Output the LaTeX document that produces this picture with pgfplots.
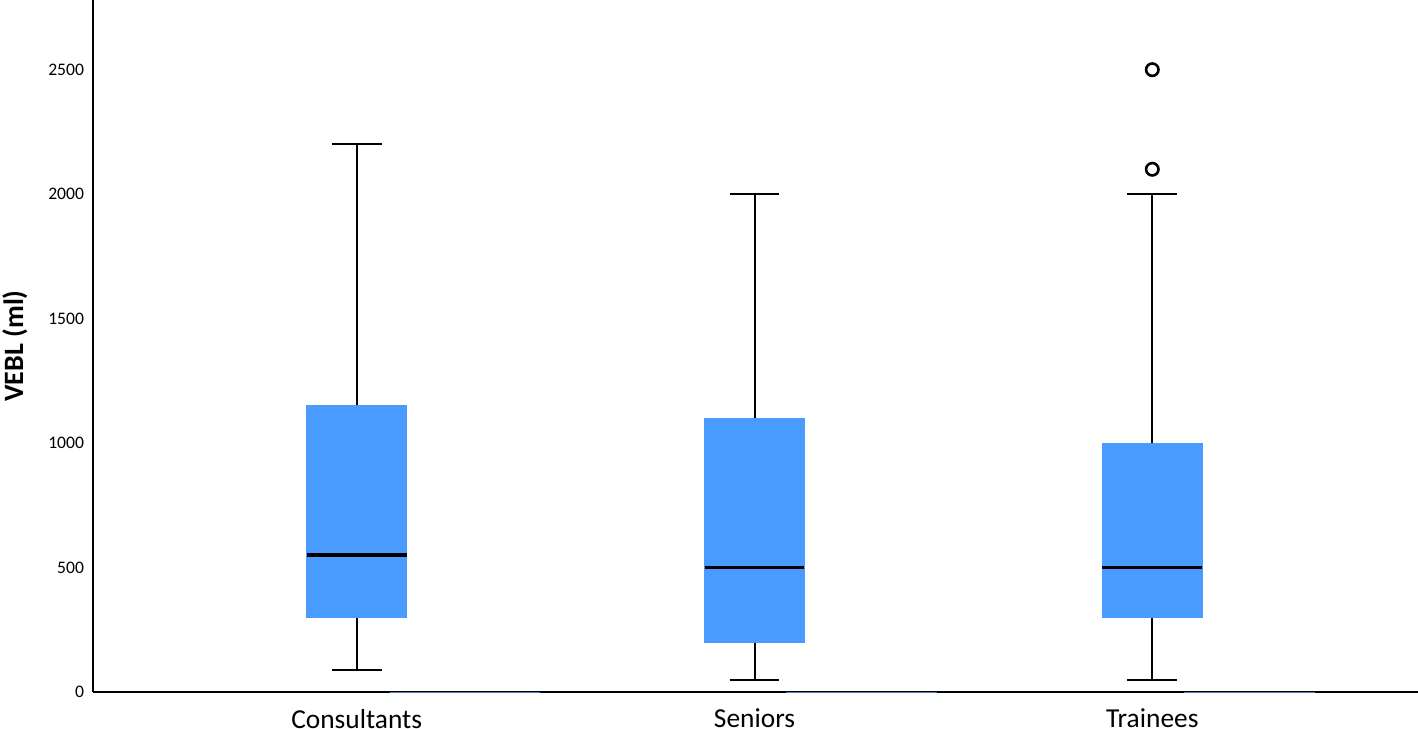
\documentclass[border=0pt]{standalone}
\usepackage{fontspec}
\setmainfont{Carlito}
\usepackage{pgfplots}
\pgfplotsset{compat=1.18}
\usepgfplotslibrary{statistics}
\definecolor{boxblue}{RGB}{74,155,255}
\definecolor{axblue}{RGB}{80,125,190}
\begin{document}
\begin{tikzpicture}
\begin{axis}[
  scale only axis,
  width=662.5pt, height=346pt,
  xmin=0.337, xmax=3.668,
  ymin=0, ymax=2780,
  axis x line=bottom, axis y line=left,
  axis line style={black, line width=0.6pt, -},
  major tick length=0pt,
  xtick={1,2,3},
  xticklabels={Consultants,Seniors,Trainees},
  ytick={0,500,1000,1500,2000,2500},
  /pgf/number format/assume math mode=true,
  /pgf/number format/1000 sep={},
  yticklabel style={font=\fontsize{8.8}{10}\selectfont, xshift=-1pt},
  xticklabel style={font=\fontsize{13.7}{15}\selectfont, yshift=-5pt},
  ylabel={\textbf{VEBL (ml)}},
  ylabel style={font=\fontsize{14}{16}\selectfont, at={(axis description cs:-0.0589,0.5)}, anchor=center},
  boxplot/draw direction=y,
  boxplot/box extend=0.251,
  boxplot/whisker extend=0.125,
  boxplot/every box/.style={fill=boxblue, draw=boxblue},
  boxplot/every whisker/.style={black, line width=1pt},
  boxplot/every median/.style={black, line width=1.9pt},
  clip=false,
]
\addplot[boxplot prepared={draw position=1, lower whisker=90, lower quartile=300, median=550, upper quartile=1150, upper whisker=2200}] coordinates {};
\addplot[boxplot prepared={draw position=2, lower whisker=50, lower quartile=200, median=500, upper quartile=1100, upper whisker=2000}] coordinates {};
\addplot[boxplot prepared={draw position=3, lower whisker=50, lower quartile=300, median=500, upper quartile=1000, upper whisker=2000}, mark=o, mark size=3.1pt, mark options={black, line width=1.3pt}] table[row sep=\\, y index=0] {v\\ 2500\\ 2100\\};
\addplot[axblue, line width=0.5pt] coordinates {(1.083,0) (1.46,0)};
\addplot[axblue, line width=0.5pt] coordinates {(2.08,0) (2.46,0)};
\addplot[axblue, line width=0.5pt] coordinates {(3.08,0) (3.41,0)};
\end{axis}
\pgfresetboundingbox
\useasboundingbox (-46.5pt,-18pt) rectangle (662.5pt,346pt);
\end{tikzpicture}
\end{document}
